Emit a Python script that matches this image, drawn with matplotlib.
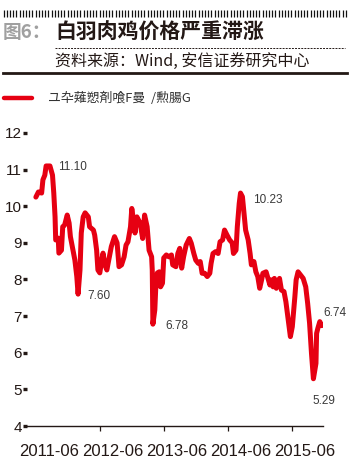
import matplotlib
matplotlib.use("Agg")
import matplotlib.pyplot as plt

# ---------------- data ----------------
x_years = [2011.00, 2011.04, 2011.09, 2011.11, 2011.14, 2011.16, 2011.22, 2011.26, 2011.28, 2011.30,
           2011.31, 2011.35, 2011.36, 2011.40, 2011.42, 2011.45, 2011.49, 2011.52, 2011.54, 2011.58,
           2011.61, 2011.64, 2011.66, 2011.69, 2011.71, 2011.74, 2011.77, 2011.82, 2011.84, 2011.90,
           2011.92, 2011.95, 2011.97, 2012.00, 2012.03, 2012.05, 2012.08, 2012.11, 2012.15, 2012.18,
           2012.23, 2012.27, 2012.30, 2012.34, 2012.38, 2012.41, 2012.44, 2012.48, 2012.50, 2012.53,
           2012.55, 2012.58, 2012.63, 2012.67, 2012.70, 2012.74, 2012.77, 2012.81, 2012.82, 2012.83,
           2012.86, 2012.88, 2012.90, 2012.93, 2012.95, 2012.98, 2013.00, 2013.04, 2013.08, 2013.12,
           2013.14, 2013.19, 2013.22, 2013.25, 2013.28, 2013.31, 2013.35, 2013.40, 2013.43, 2013.47,
           2013.50, 2013.54, 2013.57, 2013.60, 2013.64, 2013.68, 2013.72, 2013.74, 2013.77, 2013.81,
           2013.85, 2013.88, 2013.92, 2013.95, 2013.99, 2014.03, 2014.07, 2014.09, 2014.13, 2014.15,
           2014.18, 2014.20, 2014.23, 2014.25, 2014.28, 2014.32, 2014.35, 2014.37, 2014.41, 2014.44,
           2014.47, 2014.50, 2014.53, 2014.55, 2014.60, 2014.63, 2014.66, 2014.68, 2014.71, 2014.73,
           2014.76, 2014.79, 2014.81, 2014.84, 2014.88, 2014.91, 2014.94, 2014.98, 2015.01, 2015.05,
           2015.07, 2015.10, 2015.14, 2015.18, 2015.22, 2015.25, 2015.28, 2015.31, 2015.34, 2015.38,
           2015.39, 2015.41, 2015.44, 2015.47]
price = [10.25, 10.39, 10.36, 10.72, 10.85, 11.10, 11.10, 10.85, 10.36, 9.71,
         9.08, 9.13, 8.72, 8.80, 9.44, 9.49, 9.76, 9.54, 9.17, 8.80,
         8.53, 8.08, 7.60, 8.26, 9.27, 9.71, 9.82, 9.71, 9.44, 9.35,
         9.21, 8.80, 8.26, 8.18, 8.53, 8.72, 8.40, 8.26, 8.62, 8.90,
         9.17, 9.00, 8.35, 8.40, 8.62, 8.94, 9.03, 9.44, 9.94, 9.58,
         9.27, 9.71, 9.54, 9.12, 9.76, 9.44, 8.80, 8.62, 8.26, 6.78,
         7.17, 7.99, 8.18, 8.21, 7.80, 7.90, 8.59, 8.67, 8.62, 8.67,
         8.40, 8.35, 8.71, 8.85, 8.31, 8.62, 8.94, 9.12, 8.99, 8.71,
         8.53, 8.44, 8.49, 8.17, 8.17, 8.08, 8.17, 8.44, 8.71, 8.76,
         8.71, 9.03, 9.08, 9.35, 9.21, 9.08, 9.00, 8.71, 8.80, 9.44,
         10.08, 10.36, 10.26, 9.90, 9.35, 9.08, 8.71, 8.40, 8.49, 8.21,
         8.08, 7.76, 7.99, 8.17, 8.21, 8.03, 7.85, 7.99, 7.80, 8.03,
         7.76, 7.94, 8.03, 7.71, 7.67, 7.39, 6.98, 6.44, 6.71, 7.53,
         7.99, 8.21, 8.12, 8.03, 7.80, 7.35, 6.81, 5.98, 5.29, 5.71,
         6.53, 6.67, 6.85, 6.74]

y_ticks = [4, 5, 6, 7, 8, 9, 10, 11, 12]
x_tick_marks = [2012, 2013, 2014, 2015]
x_label_pos = [2011.2, 2012.2, 2013.2, 2014.2, 2015.2]
x_labels = ["2011-06", "2012-06", "2013-06", "2014-06", "2015-06"]

annot_text = ["11.10", "7.60", "6.78", "10.23", "6.74", "5.29"]
annot_x = [2011.35, 2011.81, 2013.02, 2014.39, 2015.50, 2015.32]
annot_y = [11.07, 7.55, 6.73, 10.17, 7.08, 4.69]

legend_label = "ユ卆薙愬剤喰F曼  /勲腸G"
title_prefix = "图6："
title_text = "白羽肉鸡价格严重滞涨"
source_text = "资料来源：Wind, 安信证券研究中心"

RED = "#E60012"
DARK = "#231815"

# ---------------- figure ----------------
fig = plt.figure(figsize=(3.6, 4.65), dpi=100)
fig.patch.set_facecolor("white")

ax = fig.add_axes([25 / 360, 39 / 465, 298 / 360, 293 / 465])
ax.plot(x_years, price, color=RED, lw=3.6, solid_joinstyle="round", solid_capstyle="round")
ax.set_xlim(2010.83, 2015.49)
ax.set_ylim(4, 12)

for s in ["top", "right", "left"]:
    ax.spines[s].set_visible(False)
ax.spines["bottom"].set_color(DARK)
ax.spines["bottom"].set_linewidth(1.0)

ax.set_yticks(y_ticks)
ax.set_yticklabels([str(v) for v in y_ticks], fontfamily="Liberation Sans", fontsize=11, color=DARK)
ax.tick_params(axis="y", direction="inout", length=2.2, width=2.4, color=DARK, pad=1)

ax.set_xticks(x_tick_marks)
ax.set_xticklabels([])
ax.tick_params(axis="x", which="major", direction="out", length=3.6, width=0.9, color=DARK)
ax.set_xticks(x_label_pos, minor=True)
ax.set_xticklabels(x_labels, minor=True, fontfamily="Liberation Sans", fontsize=12, color=DARK)
ax.tick_params(axis="x", which="minor", length=0, pad=13)

for t, xx, yy in zip(annot_text, annot_x, annot_y):
    ax.text(xx, yy, t, ha="left", va="center", fontfamily="Liberation Sans",
            fontsize=8.5, color="#3a3a3a")

# ---------------- decorations (pixel coordinate overlay) ----------------
ov = fig.add_axes([0, 0, 1, 1], zorder=5)
ov.set_xlim(0, 360)
ov.set_ylim(465, 0)
ov.axis("off")

xs = 3.5
while xs < 346:
    ov.plot([xs, xs], [10, 17], color="#111111", lw=0.9, solid_capstyle="butt")
    xs += 3.2

ov.text(3, 32, title_prefix, ha="left", va="center", fontsize=13.5, fontweight="bold",
        color="#A0A0A0", family=["Noto Sans CJK SC", "DejaVu Sans"])
ov.text(55, 32, title_text, ha="left", va="center", fontsize=15, fontweight="bold",
        color=DARK, family=["Noto Sans CJK SC", "DejaVu Sans"])
ov.plot([55, 345], [48, 48], color=DARK, lw=0.7, linestyle=(0, (2, 1.2)))
ov.text(55, 61, source_text, ha="left", va="center", fontsize=11.5,
        color=DARK, family=["Noto Sans CJK SC", "DejaVu Sans"])
ov.plot([3, 347], [73, 73], color=DARK, lw=2.0)

ov.plot([4, 32], [98.5, 98.5], color=RED, lw=3.2, solid_capstyle="round")
ov.text(48, 98, legend_label, ha="left", va="center", fontsize=9.3,
        color="#333333", family=["Noto Sans CJK JP", "DejaVu Sans"])

fig.savefig("out.png", dpi=100)
